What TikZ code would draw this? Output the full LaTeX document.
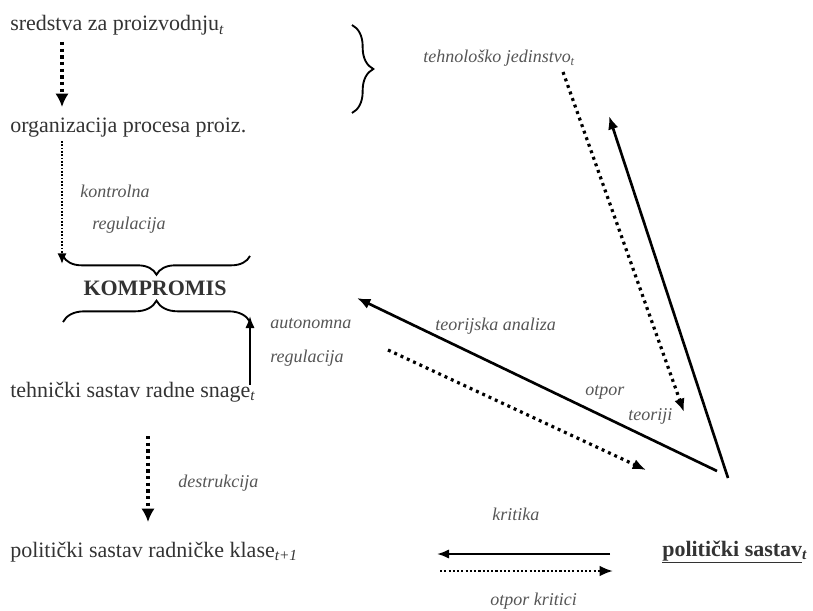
\documentclass[tikz,border=0pt]{standalone}
\usepackage{fontspec}
\setmainfont{Liberation Serif}
\usetikzlibrary{arrows.meta,decorations.pathreplacing}
\definecolor{txt}{HTML}{333333}
\definecolor{lbl}{HTML}{555555}
\tikzset{
  main/.style={anchor=base west,inner sep=0pt,text=txt,font=\fontsize{16.5}{18}\selectfont},
  lab/.style={anchor=base west,inner sep=0pt,text=lbl,font=\fontsize{13.5}{15}\selectfont\itshape},
  bigdots/.style={line width=3pt,dash pattern=on 2.6pt off 2.4pt,-{Latex[length=10pt,width=10pt]}},
  thindots/.style={line width=1.5pt,dash pattern=on 1.3pt off 1.2pt,-{Latex[length=8pt,width=7pt]}},
  diagdots/.style={line width=2.4pt,dash pattern=on 2.2pt off 3pt,-{Latex[length=10pt,width=8pt]}},
  solidarr/.style={line width=2pt,-{Latex[length=10pt,width=8pt]}},
  thinarr/.style={line width=1.5pt,-{Latex[length=9pt,width=7pt]}},
  bracel/.style={line width=1.4pt,decorate,decoration={brace,amplitude=#1}}
}
\newcommand{\subt}[1]{\textsubscript{\itshape #1}}
\begin{document}
\begin{tikzpicture}[x=0.75pt,y=-0.75pt]
\useasboundingbox (0,0) rectangle (813,610);
% main texts
\node[main] (sred) at (10,31) {sredstva za proizvodnju\subt{t}};
\node[main] (org) at (10,132) {organizacija procesa proiz.};
\node[main,font=\fontsize{16.5}{18}\selectfont\bfseries,anchor=base] (komp) at (155,295) {KOMPROMIS};
\node[main] (teh) at (10,397) {tehnički sastav radne snage\subt{t}};
\node[main] (polk) at (10,557) {politički sastav radničke klase\subt{t+1}};
\node[main,font=\fontsize{16.5}{18}\selectfont\bfseries] (pols) at (662,556) {\underline{politički sastav}\subt{t}};
% labels
\node[lab] (kon) at (80,197) {kontrolna};
\node[lab] (reg1) at (92,229) {regulacija};
\node[lab] (aut) at (270,328) {autonomna};
\node[lab] (reg2) at (270,362) {regulacija};
\node[lab] (des) at (178,487) {destrukcija};
\node[lab] (teh2) at (423,63) {tehnološko jedinstvo\subt{t}};
\node[lab] (teo) at (435,330) {teorijska analiza};
\node[lab] (otp) at (585,395) {otpor};
\node[lab] (teoriji) at (628,420) {teoriji};
\node[lab] (krit) at (492,520) {kritika};
\node[lab] (otpk) at (490,605) {otpor kritici};
% coordinates
\coordinate (a1s) at (62,42);
\coordinate (a1e) at (62,107);
\coordinate (a2s) at (62,141);
\coordinate (a2e) at (62,264);
\coordinate (b1l) at (63,256);
\coordinate (b1r) at (250,256);
\coordinate (b2l) at (63,322);
\coordinate (b2r) at (250,322);
\coordinate (a3s) at (250,385);
\coordinate (a3e) at (250,316);
\coordinate (a4s) at (148,436);
\coordinate (a4e) at (148,522);
\coordinate (b3t) at (352,25);
\coordinate (b3b) at (352,113);
\coordinate (d1s) at (563,72);
\coordinate (d1e) at (684,412);
\coordinate (s1s) at (728,478);
\coordinate (s1e) at (609,116);
\coordinate (s2s) at (717,471);
\coordinate (s2e) at (357,298);
\coordinate (d2s) at (388,350);
\coordinate (d2e) at (646,470);
\coordinate (k1s) at (610,554);
\coordinate (k1e) at (437,554);
\coordinate (k2s) at (440,571);
\coordinate (k2e) at (613,571);
% connectors
\draw[bigdots] (a1s) -- (a1e);
\draw[thindots] (a2s) -- (a2e);
\draw[bracel=14pt] (b1r) -- (b1l);
\draw[bracel=16pt] (b2l) -- (b2r);
\draw[thinarr] (a3s) -- (a3e);
\draw[bigdots] (a4s) -- (a4e);
\draw[bracel=16pt] (b3t) -- (b3b);
\draw[diagdots] (d1s) -- (d1e);
\draw[solidarr] (s1s) -- (s1e);
\draw[solidarr] (s2s) -- (s2e);
\draw[diagdots] (d2s) -- (d2e);
\draw[thinarr] (k1s) -- (k1e);
\draw[diagdots,line width=1.8pt,dash pattern=on 1.6pt off 1.6pt] (k2s) -- (k2e);
\end{tikzpicture}
\end{document}
